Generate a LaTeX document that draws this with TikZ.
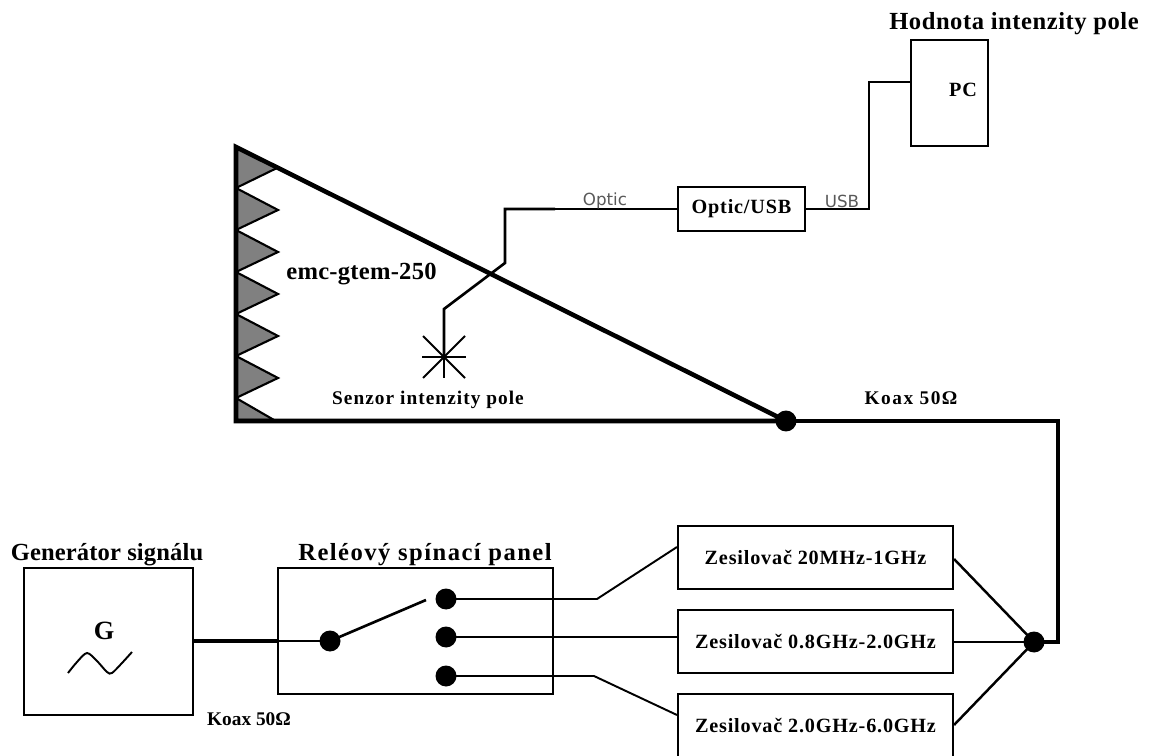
\documentclass[tikz,border=0pt]{standalone}
\usepackage{fontspec}
\setmainfont{Liberation Serif}
\newfontfamily\labelfont{DejaVu Sans}
\usetikzlibrary{arrows.meta, positioning, calc}
\newcommand{\boldface}[2]{\bfseries\fontsize{#1}{#1}\selectfont\addfontfeatures{LetterSpace=#2}}

\begin{document}
\begin{tikzpicture}[
            x=0.02cm, y=-0.02cm,
            box/.style={rectangle, draw=black, line width=1.2pt, align=center, font=\boldface{11.5}{4}, inner sep=0pt},
            title/.style={font=\boldface{14}{#1}, inner sep=0pt},
            caption/.style={font=\boldface{11}{#1}, inner sep=0pt},
            cablelabel/.style={font=\labelfont\fontsize{9.5}{11}\selectfont, text=black!65, inner sep=0pt},
            dot/.style={circle, fill=black, minimum size=0.42cm, inner sep=0pt},
            wire/.style={line width=1.1pt},
            koax/.style={line width=2.2pt},
            tooth/.style={draw=black, line width=1.2pt, fill=black!50}
        ]
\useasboundingbox (0,0) rectangle (1152,756);

% Nodes
            \node[box, minimum width=1.54cm, minimum height=2.12cm] (pc) at (949.5,93) {};
            \node[font=\boldface{11.5}{4}, inner sep=0pt] (pcText) at (963,90) {PC};
            \node[box, minimum width=2.54cm, minimum height=0.88cm] (converter) at (741.5,209) {Optic/USB};
            \node[box, minimum width=3.38cm, minimum height=2.94cm] (generator) at (108.5,641.5) {};
            \node[box, minimum width=5.5cm, minimum height=2.52cm] (panel) at (415.5,631) {};
            \node[box, minimum width=5.5cm, minimum height=1.26cm] (ampA) at (815.5,557.5) {Zesilovač 20MHz-1GHz};
            \node[box, minimum width=5.5cm, minimum height=1.26cm] (ampB) at (815.5,641.5) {Zesilovač 0.8GHz-2.0GHz};
            \node[box, minimum width=5.5cm, minimum height=1.28cm] (ampC) at (815.5,726) {Zesilovač 2.0GHz-6.0GHz};

            \node[dot] (chamberDot) at (786,421) {};
            \node[dot] (sumDot) at (1034,642) {};
            \node[dot] (inDot) at (330,641) {};
            \node[dot] (outA) at (446,599) {};
            \node[dot] (outB) at (446,637) {};
            \node[dot] (outC) at (446,676) {};
            \coordinate (sensor) at (444,357);

% Chamber
            \foreach \y in {188,230,272,314,356} {
                \filldraw[tooth] (236,\y) -- (278,\y+22) -- (236,\y+42) -- cycle;
            }
            \filldraw[tooth] (236,147) -- (277,168) -- (236,188) -- cycle;
            \filldraw[tooth] (236,398) -- (274,420) -- (236,420) -- cycle;
            \draw[line width=2.6pt, line join=miter] (236,147) -- (786,421) -- (236,421) -- cycle;

% Sensor
            \draw[wire] (sensor) ++(-22,0) -- ++(44,0);
            \draw[wire] (sensor) ++(-21,-21) -- ++(42,42);
            \draw[wire] (sensor) ++(-21,21) -- ++(42,-42);
            \draw[wire] (sensor) -- ++(0,21);

% Edges
            \draw[wire, line width=1.5pt] (sensor) -- (444,309) -- (505,263) -- (505,209) -- (555,209);
            \draw[line width=0.8pt] (555,209) -- (converter.west);
            \draw[wire] (converter.east) -- (869,209) -- (869,82) -- (pc.west |- 0,82);
            \draw[koax] (chamberDot.center) -- (1058,421) -- (1058,642) -- (sumDot.center);
            \draw[koax] (generator.east |- 0,641) -- (panel.west |- 0,641);
            \draw[wire] (panel.west |- 0,641) -- (inDot.center);
            \draw[line width=1.5pt] (inDot.center) -- (426,600);
            \draw[wire] (outA.center) -- (597,599) -- (ampA.west |- 0,547);
            \draw[wire] (outB.center) -- (ampB.west |- 0,637);
            \draw[wire] (outC.center) -- (594,676) -- (ampC.west |- 0,715);
            \draw[wire, line width=1.4pt] (ampA.east |- 0,559) -- (sumDot.center);
            \draw[wire, line width=1.4pt] (ampB.east |- 0,642) -- (sumDot.center);
            \draw[wire, line width=1.4pt] (ampC.east |- 0,725) -- (sumDot.center);

% Generator symbol
            \node[font=\bfseries\fontsize{15}{17}\selectfont, inner sep=0pt] (gLabel) at (104,631) {G};
            \draw[wire] plot[smooth] coordinates {(68,673) (77,662) (87,653) (97,661) (107,672) (112,673) (122,663) (132,652)};

% Annotations
            \node[title=0.5] (genTitle) at (107,555) {Generátor signálu};
            \node[title=6] (panelTitle) at (425,555) {Reléový spínací panel};
            \node[title=2.2] (pcTitle) at (1014,24) {Hodnota intenzity pole};
            \node[font=\boldface{14}{1}, inner sep=0pt] (chamberLabel) at (361.5,274) {emc-gtem-250};
            \node[caption=5.4] (sensorLabel) at (428,400) {Senzor intenzity pole};
            \node[caption=8] (koaxTop) at (911,398) {Koax 50Ω};
            \node[caption=0] (koaxBottom) at (249,719) {Koax 50Ω};
            \node[cablelabel] (opticLabel) at (605,201) {Optic};
            \node[cablelabel] (usbLabel) at (842,201) {USB};

        \end{tikzpicture}
\end{document}
